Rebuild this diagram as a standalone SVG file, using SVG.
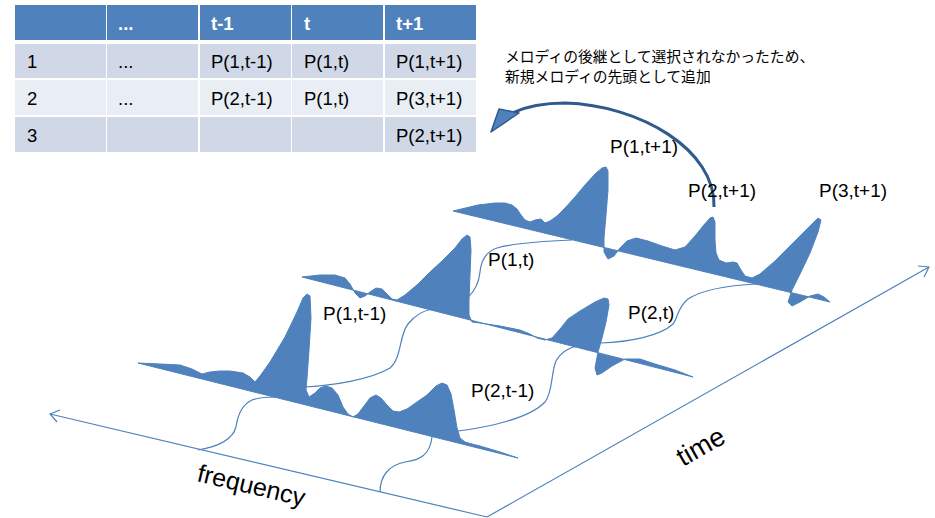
<svg xmlns="http://www.w3.org/2000/svg" width="935" height="518" viewBox="0 0 935 518">
<style>
.hd{fill:#4F81BD}
.r1{fill:#D0D8E8}
.r2{fill:#E9EDF4}
.th{font-family:"Liberation Sans",Arial,sans-serif;font-size:18.5px;font-weight:bold;fill:#FFFFFF}
.td{font-family:"Liberation Sans",Arial,sans-serif;font-size:18.5px;fill:#000000}
.lbl{font-family:"Liberation Sans",Arial,sans-serif;font-size:19px;fill:#000000}
.ax{font-family:"Liberation Sans",Arial,sans-serif;font-size:25px;fill:#000000}
.jp{font-family:"Liberation Sans","Noto Sans CJK JP",sans-serif;font-size:14.8px;fill:#000000}
.wave{fill:#4F81BD;stroke:#4F81BD;stroke-width:1;stroke-linejoin:round}
.con{fill:none;stroke:#4F81BD;stroke-width:1.2}
.axis{fill:none;stroke:#4F81BD;stroke-width:1.2}
</style>

<g id="table">
  <rect class="hd" x="15" y="5" width="91" height="35"/>
  <rect class="hd" x="107" y="5" width="91" height="35"/>
  <rect class="hd" x="200" y="5" width="91" height="35"/>
  <rect class="hd" x="292" y="5" width="91" height="35"/>
  <rect class="hd" x="385" y="5" width="91" height="35"/>
  <rect class="r1" x="15" y="44" width="91" height="34"/>
  <rect class="r1" x="107" y="44" width="91" height="34"/>
  <rect class="r1" x="200" y="44" width="91" height="34"/>
  <rect class="r1" x="292" y="44" width="91" height="34"/>
  <rect class="r1" x="385" y="44" width="91" height="34"/>
  <rect class="r2" x="15" y="80" width="91" height="35"/>
  <rect class="r2" x="107" y="80" width="91" height="35"/>
  <rect class="r2" x="200" y="80" width="91" height="35"/>
  <rect class="r2" x="292" y="80" width="91" height="35"/>
  <rect class="r2" x="385" y="80" width="91" height="35"/>
  <rect class="r1" x="15" y="117" width="91" height="35"/>
  <rect class="r1" x="107" y="117" width="91" height="35"/>
  <rect class="r1" x="200" y="117" width="91" height="35"/>
  <rect class="r1" x="292" y="117" width="91" height="35"/>
  <rect class="r1" x="385" y="117" width="91" height="35"/>
  <text class="th" x="118" y="30">...</text>
  <text class="th" x="211" y="30">t-1</text>
  <text class="th" x="304" y="30">t</text>
  <text class="th" x="396" y="30">t+1</text>
  <text class="td" x="27" y="68">1</text>
  <text class="td" x="118" y="68">...</text>
  <text class="td" x="211" y="68">P(1,t-1)</text>
  <text class="td" x="304" y="68">P(1,t)</text>
  <text class="td" x="396" y="68">P(1,t+1)</text>
  <text class="td" x="27" y="105">2</text>
  <text class="td" x="118" y="105">...</text>
  <text class="td" x="211" y="105">P(2,t-1)</text>
  <text class="td" x="304" y="105">P(1,t)</text>
  <text class="td" x="396" y="105">P(3,t+1)</text>
  <text class="td" x="27" y="142">3</text>
  <text class="td" x="396" y="142">P(2,t+1)</text>
</g>

<g id="note">
  <text class="jp" x="505" y="62">メロディの後継として選択されなかったため、</text>
  <text class="jp" x="505" y="82">新規メロディの先頭として追加</text>
</g>

<g id="axes">
  <path class="axis" d="M487,517 L50,414 M60,410 L50,414 L57,422"/>
  <path class="axis" d="M487,517 L929,267 M918,266 L929,267 L924,277"/>
  <text class="ax" transform="translate(196,481) rotate(13.3)">frequency</text>
  <text class="ax" style="font-size:27px" transform="translate(683,467) rotate(-29.5)">time</text>
</g>

<g id="wave-t-1">
  <path class="wave" d="M138,363 L160,364 L180,365 L192,369 L202,374 L210,372 L220,371 L230,371 L243,373 L250,377 L255,382 L260,376 L270,362 L285,337 L297,312 L303,298 L307,294 L310,296 L311,318 L309,350 L307,378 L306,390 L309,397 L315,393 L320,388 L326,386 L332,388 L338,395 L343,407 L348,414 L353,417 L358,414 L364,406 L370,398 L376,395 L381,398 L387,405 L393,411 L399,412 L407,409 L417,402 L427,395 L436,386 L442,383 L447,385 L451,394 L454,410 L457,428 L460,438 L465,442 L472,444 L480,446 L500,452 L518,458 Z"/>
</g>

<g id="wave-t">
  <path class="wave" d="M302,277 L320,275 L335,275 L345,278 L350,284 L355,293 L360,298 L365,296 L370,292 L376,288 L382,289 L387,294 L392,299 L397,300 L405,295 L418,284 L430,272 L442,261 L455,248 L462,239 L467,235 L470,237 L471,250 L470,275 L469,300 L469,315 L472,322 L480,323 L500,326 L520,330 L530,334 L537,338 L545,340 L552,338 L560,329 L568,319 L580,311 L595,302 L604,298 L608,299 L609,305 L606,322 L602,338 L598,352 L595,368 L597,375 L602,373 L612,366 L625,359 L640,359 L655,364 L675,370 L693,377 Z"/>
</g>

<g id="wave-t1">
  <path class="wave" d="M453,211 L478,205 L495,203 L505,203 L512,205 L517,209 L521,215 L525,220 L530,222 L535,220 L541,219 L545,223 L550,221 L557,216 L565,208 L575,197 L585,185 L595,174 L602,168 L606,167 L608,171 L608,190 L606,215 L604,238 L604,252 L608,259 L614,256 L620,248 L627,241 L636,238 L648,241 L662,246 L675,250 L685,247 L695,236 L703,226 L710,218 L713,217 L715,222 L715,240 L716,253 L719,260 L726,263 L733,262 L737,263 L741,270 L745,276 L752,278 L760,274 L775,261 L795,241 L810,226 L818,218 L821,220 L818,232 L810,253 L800,274 L792,290 L788,302 L792,306 L800,302 L810,296 L818,294 L824,297 L830,302 Z"/>
</g>

<g id="connectors">
  <path class="con" d="M303,387 C330,386 370,380 390,368 C402,358 399,335 408,324 C416,314 425,310 433,309"/>
  <path class="con" d="M198,450 C222,446 233,438 236,427 C238,413 243,404 252,400 C260,397 270,397 277,397"/>
  <path class="con" d="M458,431 C490,427 530,418 545,402 C553,392 551,372 556,361 C561,352 570,347 578,346"/>
  <path class="con" d="M380,492 C380,475 390,465 405,462 C420,460 430,455 432,437"/>
  <path class="con" d="M468,297 C476,290 479,282 480,272 C481,262 485,252 497,248 C515,243 545,241 572,240"/>
  <path class="con" d="M600,343 C630,342 660,336 673,324 C678,318 677,308 688,299 C705,288 735,285 757,284"/>
  <path fill="none" stroke="#2E5A8C" stroke-width="3" d="M714,207 C716,150 640,105 565,103 C542,103 525,107 512,113"/>
  <polygon points="491,132 499,109 519,113" fill="#4F81BD" stroke="#2E5A8C" stroke-width="1.5" stroke-linejoin="round"/>
</g>

<g id="labels">
  <text class="lbl" x="610" y="153">P(1,t+1)</text>
  <text class="lbl" x="688" y="197">P(2,t+1)</text>
  <text class="lbl" x="819" y="197">P(3,t+1)</text>
  <text class="lbl" x="488" y="266">P(1,t)</text>
  <text class="lbl" x="323" y="320">P(1,t-1)</text>
  <text class="lbl" x="471" y="397">P(2,t-1)</text>
  <text class="lbl" x="628" y="319">P(2,t)</text>
</g>
</svg>
